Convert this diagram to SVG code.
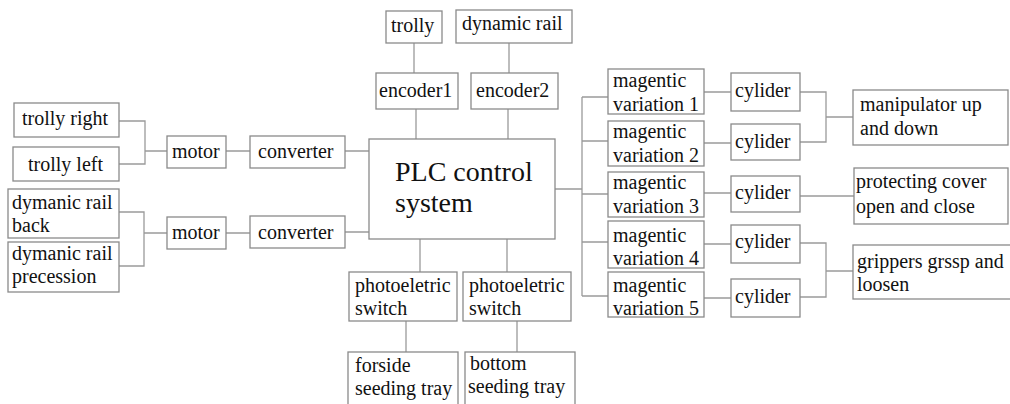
<svg xmlns="http://www.w3.org/2000/svg" width="1010" height="404" viewBox="0 0 1010 404" font-family="'Liberation Serif', 'DejaVu Serif', serif">
<style>
.b{fill:#fff;stroke:#8a8a8a;stroke-width:1.3}
.c{fill:none;stroke:#9a9a9a;stroke-width:1.3}
text{font-family:'Liberation Serif','DejaVu Serif',serif;font-size:20px;fill:#111}
.big{font-size:28px}
</style>
<rect width="1010" height="404" fill="#fff"/>
<g id="connectors">
<path class="c" d="M119,121H145V164H119M145,151H167M226,151H250M345,151H369"/>
<path class="c" d="M119,212H144V266H119M144,233H167M226,233H250M345,232H369"/>
<path class="c" d="M414,43V73M509,43V73M416,109V139M508,109V139"/>
<path class="c" d="M420,239V272M507,239V272M406,321V352M517,321V352"/>
<path class="c" d="M555,189H582M582,97V296M582,97H608M582,141H608M582,194H608M582,242H608M582,296H608"/>
<path class="c" d="M704,92H731M704,143H731M704,193H731M704,244H731M704,298H731"/>
<path class="c" d="M800,92H826V142H800M826,117H853M800,196H854M800,243H826V297H800M826,271H853"/>
</g>
<g id="trolly-right"><rect class="b" x="14" y="103" width="105" height="34"/><text x="22" y="125">trolly right</text></g>
<g id="trolly-left"><rect class="b" x="13" y="147" width="106" height="34"/><text x="28" y="171">trolly left</text></g>
<g id="rail-back"><rect class="b" x="8" y="189" width="111" height="49"/><text x="12" y="209">dymanic rail</text><text x="12" y="232">back</text></g>
<g id="rail-precession"><rect class="b" x="8" y="242" width="111" height="50"/><text x="12" y="260">dymanic rail</text><text x="12" y="283">precession</text></g>
<g id="motor1"><rect class="b" x="167" y="136" width="59" height="32"/><text x="172" y="158">motor</text></g>
<g id="motor2"><rect class="b" x="167" y="217" width="59" height="32"/><text x="172" y="239">motor</text></g>
<g id="converter1"><rect class="b" x="250" y="136" width="95" height="32"/><text x="258" y="158">converter</text></g>
<g id="converter2"><rect class="b" x="250" y="216" width="95" height="32"/><text x="258" y="239">converter</text></g>
<g id="plc"><rect class="b" x="369" y="139" width="186" height="100"/><text class="big" x="395" y="181">PLC control</text><text class="big" x="395" y="212">system</text></g>
<g id="trolly"><rect class="b" x="386" y="11" width="56" height="32"/><text x="391" y="32">trolly</text></g>
<g id="dynamic-rail"><rect class="b" x="456" y="10" width="116" height="33"/><text x="462" y="30">dynamic rail</text></g>
<g id="encoder1"><rect class="b" x="376" y="73" width="82" height="36"/><text x="379" y="97">encoder1</text></g>
<g id="encoder2"><rect class="b" x="471" y="73" width="87" height="36"/><text x="476" y="97">encoder2</text></g>
<g id="photo1"><rect class="b" x="349" y="272" width="108" height="49"/><text x="355" y="292">photoeletric</text><text x="355" y="315">switch</text></g>
<g id="photo2"><rect class="b" x="463" y="272" width="108" height="49"/><text x="469" y="292">photoeletric</text><text x="469" y="315">switch</text></g>
<g id="forside"><rect class="b" x="348" y="352" width="110" height="60"/><text x="355" y="372">forside</text><text x="355" y="395">seeding tray</text></g>
<g id="bottom"><rect class="b" x="465" y="352" width="110" height="60"/><text x="470" y="370">bottom</text><text x="468" y="393">seeding tray</text></g>
<g id="mv1"><rect class="b" x="608" y="69" width="96" height="45"/><text x="613" y="87">magentic</text><text x="613" y="111">variation 1</text></g>
<g id="mv2"><rect class="b" x="608" y="121" width="96" height="45"/><text x="613" y="138">magentic</text><text x="613" y="162">variation 2</text></g>
<g id="mv3"><rect class="b" x="608" y="172" width="96" height="45"/><text x="613" y="189">magentic</text><text x="613" y="213">variation 3</text></g>
<g id="mv4"><rect class="b" x="608" y="221" width="96" height="47"/><text x="613" y="242">magentic</text><text x="613" y="265">variation 4</text></g>
<g id="mv5"><rect class="b" x="608" y="272" width="96" height="45"/><text x="613" y="292">magentic</text><text x="613" y="315">variation 5</text></g>
<g id="cyl1"><rect class="b" x="731" y="73" width="69" height="38"/><text x="735" y="97">cylider</text></g>
<g id="cyl2"><rect class="b" x="731" y="124" width="69" height="36"/><text x="735" y="148">cylider</text></g>
<g id="cyl3"><rect class="b" x="731" y="176" width="69" height="36"/><text x="735" y="199">cylider</text></g>
<g id="cyl4"><rect class="b" x="731" y="225" width="69" height="38"/><text x="735" y="248">cylider</text></g>
<g id="cyl5"><rect class="b" x="731" y="279" width="69" height="38"/><text x="735" y="303">cylider</text></g>
<g id="manipulator"><rect class="b" x="853" y="90" width="155" height="55"/><text x="860" y="111">manipulator up</text><text x="860" y="135">and down</text></g>
<g id="cover"><rect class="b" x="854" y="168" width="154" height="56"/><text x="856" y="188">protecting cover</text><text x="856" y="213">open and close</text></g>
<g id="grippers"><rect class="b" x="853" y="245" width="160" height="54"/><text x="857" y="268">grippers grssp and</text><text x="857" y="291">loosen</text></g>
</svg>
